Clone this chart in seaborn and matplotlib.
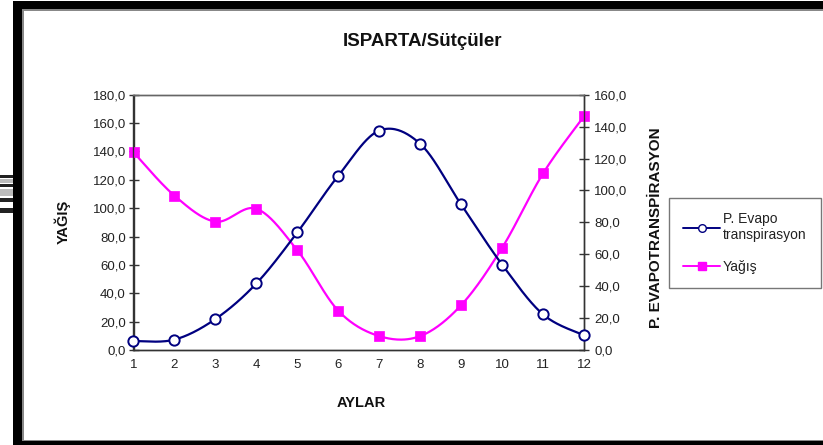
import numpy as np
import pandas as pd
import matplotlib
matplotlib.use("Agg")
import matplotlib.pyplot as plt
from matplotlib.patches import Rectangle
from matplotlib.lines import Line2D
import seaborn as sns

# ---- data ----
months = [1, 2, 3, 4, 5, 6, 7, 8, 9, 10, 11, 12]
yagis = [139.4, 108.8, 90.5, 99.6, 70.3, 27.7, 9.8, 9.8, 31.6, 72.0, 124.5, 164.8]
pet = [5.6, 6.5, 19.4, 41.7, 73.7, 109.2, 137.5, 129.2, 91.2, 53.5, 22.3, 9.2]
left_ticks = [0, 20, 40, 60, 80, 100, 120, 140, 160, 180]
right_ticks = [0, 20, 40, 60, 80, 100, 120, 140, 160]
title = "ISPARTA/Sütçüler"
xlabel = "AYLAR"
ylabel_left = "YAĞIŞ"
ylabel_right = "P. EVAPOTRANSPİRASYON"
label_pet = "P. Evapo\ntranspirasyon"
label_yagis = "Yağış"

W, H = 823, 445
sns.set_style("white")
plt.rcParams['font.family'] = ['Liberation Sans', 'DejaVu Sans']

fig = plt.figure(figsize=(W / 100, H / 100), dpi=100)
fig.patch.set_facecolor("white")


def fx(px):
    return px / W


def fy(py):
    return 1 - py / H


# black frame pieces of the screenshot
def rect(x0, y0, x1, y1, color="black"):
    fig.add_artist(Rectangle((fx(x0), fy(y1)), fx(x1) - fx(x0), fy(y0) - fy(y1),
                             transform=fig.transFigure, color=color, lw=0, zorder=0))


rect(13, 1, 22, 445)
rect(13, 1, 823, 9)
rect(22, 9, 823, 10.5, "#888888")
rect(22, 9, 23.5, 441, "#888888")
rect(13, 441, 823, 445)
rect(22, 439.5, 823, 441, "#888888")
for (a, b) in [(175, 178), (184, 187), (198, 202), (208, 213)]:
    rect(0, a, 13, b, "#222222")
for (a, b) in [(179, 183), (189, 196)]:
    rect(0, a, 13, b, "#bbbbbb")

x_left, x_right = 133.5, 584
y_top, y_bot = 94.7, 350
ax = fig.add_axes([fx(x_left), fy(y_bot), fx(x_right) - fx(x_left), fy(y_top) - fy(y_bot)])
ax2 = ax.twinx()
ax.set_facecolor("none")


def smooth(xv, yv, sx, sy, n=40):
    P = np.column_stack([np.array(xv, float) * sx, np.array(yv, float) * sy])
    out = []
    for i in range(len(P) - 1):
        p0 = P[i - 1] if i > 0 else P[i]
        p1 = P[i]
        p2 = P[i + 1]
        p3 = P[i + 2] if i + 2 < len(P) else P[i + 1]
        c1 = p1 + (p2 - p0) / 6
        c2 = p2 - (p3 - p1) / 6
        t = np.linspace(0, 1, n)[:, None]
        seg = ((1 - t) ** 3) * p1 + 3 * ((1 - t) ** 2) * t * c1 + 3 * (1 - t) * t ** 2 * c2 + t ** 3 * p2
        out.append(seg if i == 0 else seg[1:])
    Q = np.vstack(out)
    return Q[:, 0] / sx, Q[:, 1] / sy


sx = (x_right - x_left) / 11
navy = "#000080"
mag = "#FF00FF"

xs, ys = smooth(months, yagis, sx, (y_bot - y_top) / 180)
sns.lineplot(x=xs, y=ys, ax=ax, sort=False, estimator=None, color=mag, lw=1.6, zorder=2)
sns.scatterplot(x=months, y=yagis, ax=ax, marker="s", s=60, color=mag, edgecolor=mag,
                linewidth=0.5, zorder=3, clip_on=False)

xs2, ys2 = smooth(months, pet, sx, (y_bot - y_top) / 160)
sns.lineplot(x=xs2, y=ys2, ax=ax2, sort=False, estimator=None, color=navy, lw=1.6, zorder=2)
sns.scatterplot(x=months, y=pet, ax=ax2, marker="o", s=55, facecolor="white", edgecolor=navy,
                linewidth=1.4, zorder=3, clip_on=False)

ax.set_xlim(1, 12)
ax.set_ylim(0, 180)
ax2.set_ylim(0, 160)
ax.set_xticks(months)
ax.set_xticklabels([str(m) for m in months])
ax.set_yticks(left_ticks)
ax.set_yticklabels([f"{v:.1f}".replace(".", ",") for v in left_ticks])
ax2.set_yticks(right_ticks)
ax2.set_yticklabels([f"{v:.1f}".replace(".", ",") for v in right_ticks])

tc = "#222222"
for a in (ax, ax2):
    for s in a.spines.values():
        s.set_color("#333333")
        s.set_linewidth(1.0)
    a.spines["top"].set_color("#666666")
    a.tick_params(axis="both", direction="inout", length=7, width=1.0, colors="#333333",
                  labelcolor=tc, labelsize=9.5, pad=2)
ax.tick_params(axis="x", pad=3)
ax2.tick_params(axis="y", pad=4)

ax.set_xlabel("")
ax.set_ylabel("")
ax2.set_ylabel("")

fig.text(fx(423), fy(42), title, ha="center", va="center", fontsize=13.5, fontweight="bold", color="#111111")
fig.text(fx(361), fy(403), xlabel, ha="center", va="center", fontsize=10.5, fontweight="bold", color="#111111")
fig.text(fx(62), fy(222), ylabel_left, ha="center", va="center", rotation=90, fontsize=10.5,
         fontweight="bold", color="#111111")
fig.text(fx(656), fy(228), ylabel_right, ha="center", va="center", rotation=90, fontsize=11,
         fontweight="bold", color="#111111")

handles = [
    Line2D([0], [0], color=navy, lw=1.4, marker="o", markersize=5.5, markerfacecolor="white",
           markeredgecolor=navy),
    Line2D([0], [0], color=mag, lw=1.4, marker="s", markersize=5.5, markerfacecolor=mag,
           markeredgecolor=mag),
]
leg = fig.legend(handles, [label_pet, label_yagis], loc="upper left",
                 bbox_to_anchor=(fx(669), fy(198)), frameon=True, fancybox=False,
                 fontsize=10, handlelength=2.7, handletextpad=0.2, labelspacing=1.3,
                 borderpad=1.0, borderaxespad=0, labelcolor=tc)
leg.get_frame().set_edgecolor("#555555")
leg.get_frame().set_linewidth(1.0)

fig.savefig("out.png", dpi=100, facecolor="white")
